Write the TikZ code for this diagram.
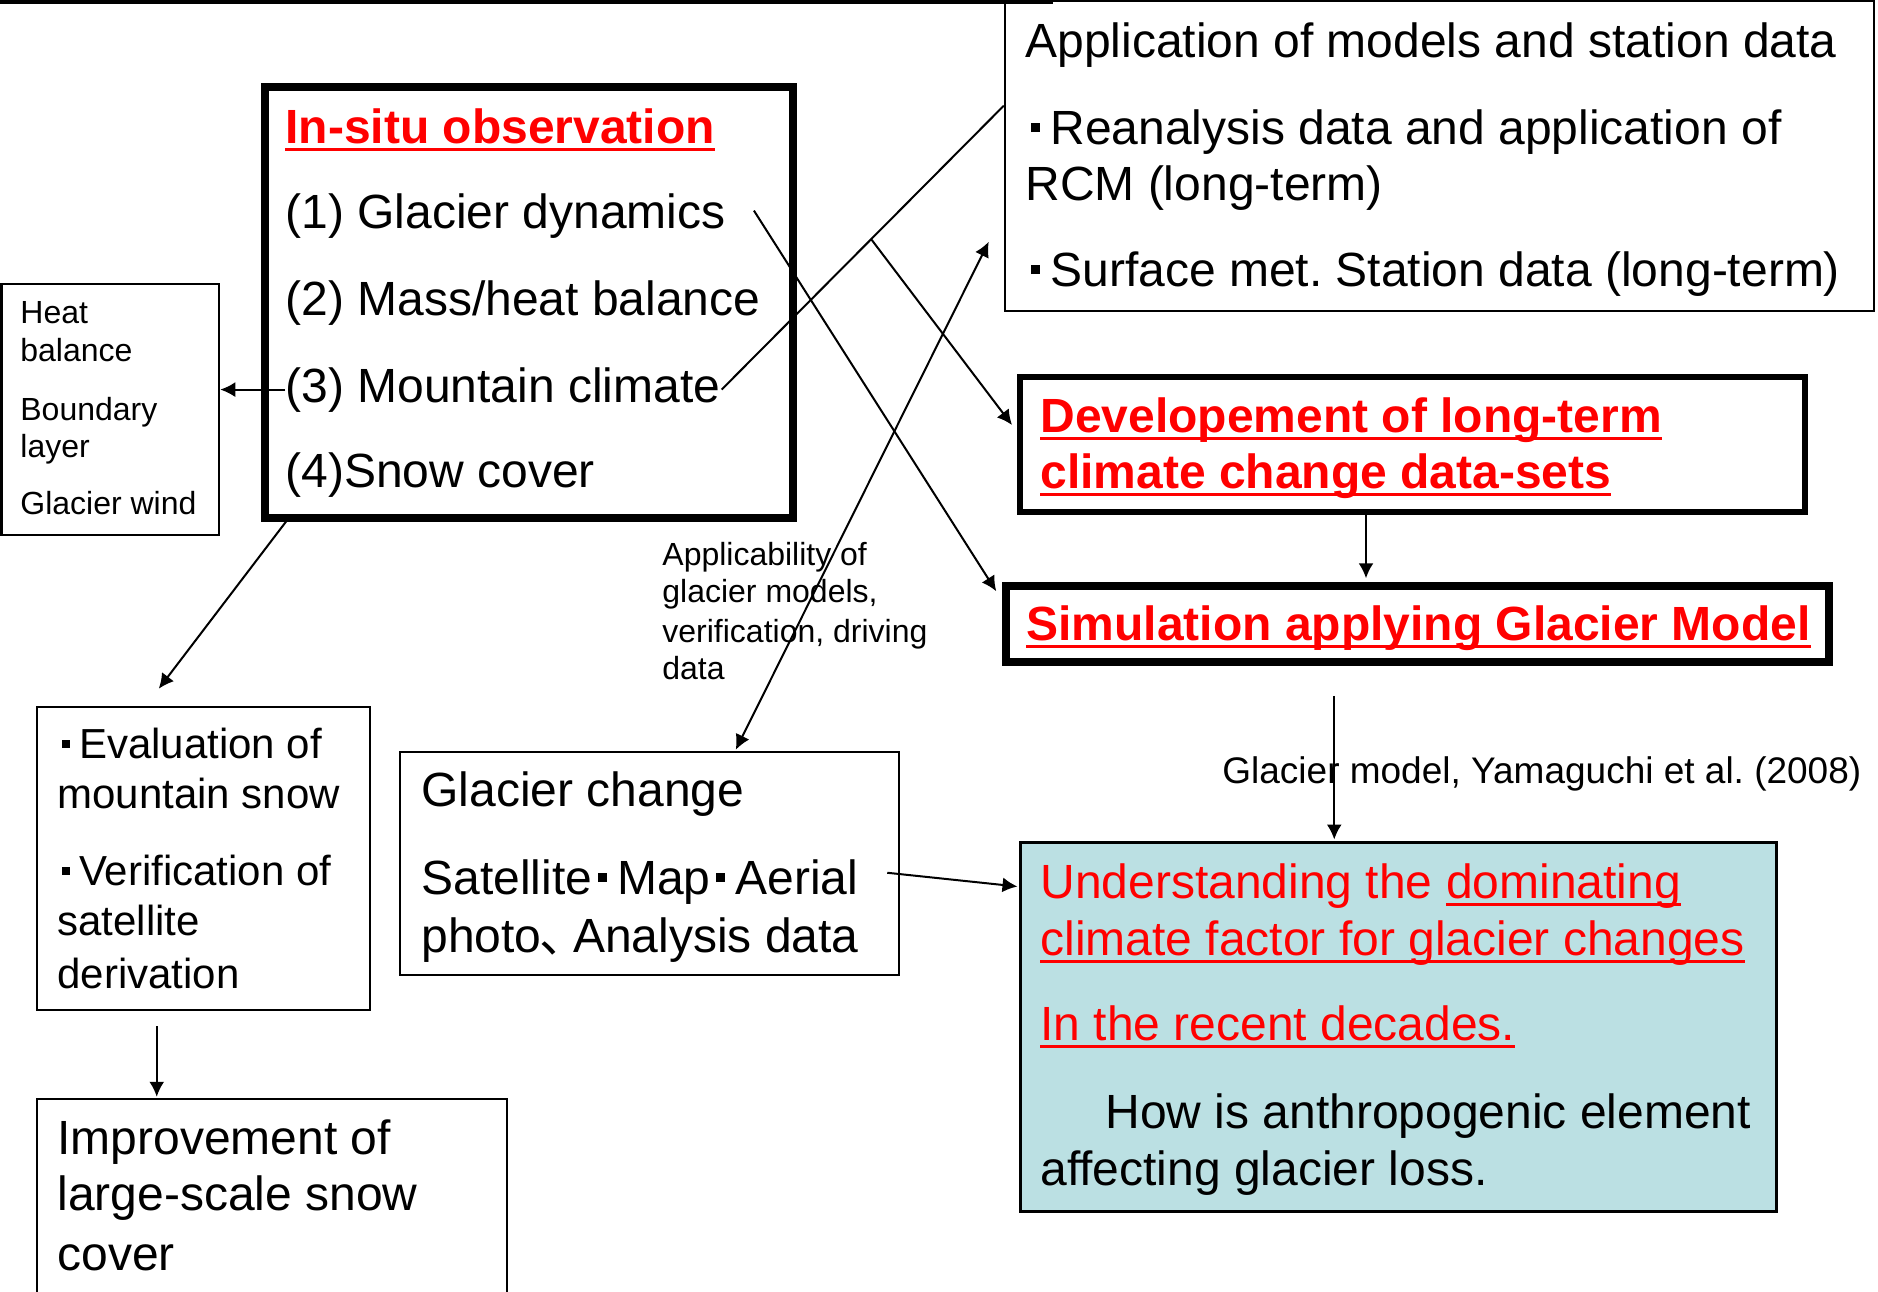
\documentclass[tikz,border=0pt]{standalone}
\usepackage{fontspec}
\setmainfont{Liberation Sans}
\newfontfamily\cjkfont{Noto Sans CJK JP}
\usetikzlibrary{arrows.meta,calc,fit}
\definecolor{boxcyan}{RGB}{187,224,227}
\definecolor{hotred}{RGB}{255,0,0}
\frenchspacing
% small square bullet
\newcommand\sqdot{\hspace*{0.12em}\rule[0.25em]{0.19em}{0.19em}\hspace*{0.21em}}
% underline at a fixed depth, descenders may cross it
\newsavebox\ulbox
\newcommand\ulined[1]{\sbox\ulbox{#1}\rlap{\rule[-0.16em]{\wd\ulbox}{0.065em}}\usebox\ulbox}
\begin{document}
\begin{tikzpicture}[x=0.5pt,y=-0.5pt,
  thinbox/.style={draw=black, line width=1.25pt, inner sep=0pt},
  thickbox/.style={draw=black, line width=3.75pt, inner sep=0pt},
  medbox/.style={draw=black, line width=3pt, inner sep=0pt},
  txt/.style={anchor=base west, inner sep=0pt, font=\fontsize{24}{28}\selectfont},
  fboxtxt/.style={anchor=base west, inner sep=0pt, font=\fontsize{21}{25}\selectfont},
  smalltxt/.style={anchor=base west, inner sep=0pt, font=\fontsize{16}{19}\selectfont},
  midtxt/.style={anchor=base west, inner sep=0pt, font=\fontsize{18.5}{22}\selectfont},
  redbold/.style={txt, text=hotred, font=\fontsize{24}{28}\selectfont\bfseries},
  redtxt/.style={txt, text=hotred},
  conn/.style={draw=black, line width=1pt},
  arr/.style={conn, -{Latex[length=7.5pt,width=7.5pt]}},
  arrboth/.style={conn, {Latex[length=7.5pt,width=7.5pt]}-{Latex[length=7.5pt,width=7.5pt]}}]
\useasboundingbox (0,0) rectangle (1878,1291);

% ---- boxes ----
\node[thinbox, fit={(1005,1)(1874,311)}] (A) {};
\draw[line width=2pt] (0,1.5) -- (1053,1.5);
\node[thickbox, fit={(265,87)(793,518)}] (B) {};
\node[thinbox, fit={(1.5,284)(219,535)}] (L) {};
\node[medbox, fit={(1020,377)(1805,512)}] (C) {};
\node[thickbox, fit={(1006,586)(1829,662)}] (D) {};
\node[thinbox, fill=boxcyan, line width=1.5pt, fit={(1020,842)(1776,1211)}] (E) {};
\node[thinbox, fit={(37,707)(370,1010)}] (F) {};
\node[thinbox, fit={(37,1099)(507,1310)}] (G) {};
\node[thinbox, fit={(400,752)(899,975)}] (H) {};

% ---- models and station data ----
\node[txt] (a1) at (1025,57) {Application of models and station data};
\node[txt] (a2) at (1025,144) {\sqdot Reanalysis data and application of};
\node[txt] (a3) at (1025,200) {RCM (long-term)};
\node[txt] (a4) at (1025,286) {\sqdot Surface met. Station data (long-term)};

% ---- in-situ observation ----
\node[redbold] (b0) at (285,143) {\ulined{In-situ observation}};
\node[txt] (b1) at (285,228) {(1) Glacier dynamics};
\node[txt] (b2) at (285,315) {(2) Mass/heat balance};
\node[txt] (b3) at (285,402) {(3) Mountain climate};
\node[txt] (b4) at (285,487) {(4)Snow cover};

% ---- side box ----
\node[smalltxt] (l1) at (20,323) {Heat};
\node[smalltxt] (l2) at (20,361) {balance};
\node[smalltxt] (l3) at (20,420) {Boundary};
\node[smalltxt] (l4) at (20,457) {layer};
\node[smalltxt] (l5) at (20,514) {Glacier wind};

% ---- data-set development and simulation ----
\node[redbold] (c1t) at (1040,432) {\ulined{Developement of long-term}};
\node[redbold] (c2t) at (1040,488) {\ulined{climate change data-sets}};
\node[redbold] (d1t) at (1026,640) {\ulined{Simulation applying Glacier Model}};

% ---- understanding box ----
\node[redtxt] (e1) at (1040,898) {Understanding the \ulined{dominating}};
\node[redtxt] (e2) at (1040,955) {\ulined{climate factor for glacier changes}};
\node[redtxt] (e3) at (1040,1040) {\ulined{In the recent decades.}};
\node[txt] (e4) at (1105,1128) {How is anthropogenic element};
\node[txt] (e5) at (1040,1185) {affecting glacier loss.};

% ---- snow evaluation ----
\node[fboxtxt] (f1t) at (57,758) {\sqdot Evaluation of};
\node[fboxtxt] (f2t) at (57,808) {mountain snow};
\node[fboxtxt] (f3t) at (57,885) {\sqdot Verification of};
\node[fboxtxt] (f4t) at (57,935) {satellite};
\node[fboxtxt] (f5t) at (57,988) {derivation};

\node[txt] (g1) at (57,1154) {Improvement of};
\node[txt] (g2) at (57,1210) {large-scale snow};
\node[txt] (g3) at (57,1270) {cover};

% ---- glacier change ----
\node[txt] (h1) at (421,806) {Glacier change};
\node[txt] (h2) at (421,894) {Satellite\sqdot Map\sqdot Aerial};
\node[txt] (h3) at (421,952) {photo\hspace{-0.04em}{\cjkfont 、}\hspace{-0.3em}Analysis data};

% ---- connector labels ----
\node[smalltxt] (k1) at (662,565) {Applicability of};
\node[smalltxt] (k2) at (662,602) {glacier models,};
\node[smalltxt] (k3) at (662,642) {verification, driving};
\node[smalltxt] (k4) at (662,679) {data};
\node[midtxt] (k5) at (1222,783) {Glacier model, Yamaguchi et al. (2008)};

% ---- connectors ----
\draw[arr] (b3.west) -- (b3.west -| L.east);
\coordinate (aL) at ($(A.north west)+(0,106)$);
\draw[conn] ($(b3.east)+(1,0)$) coordinate (m0) -- (aL);
\coordinate (br) at ($(m0)!0.53!(aL)$);
\draw[arr] (br) -- ($(C.north west)+(-5,51)$);
\draw[arr] ($(b1.east)+(28,-5)$) -- ($(D.north west)+(-6,9)$);
\draw[arrboth] ($(H.north west)+(337,-1)$) -- ($(A.north west)+(-15,242)$);
\draw[arr] ($(B.south west)+(30,-7)$) -- ($(F.north west)+(123,-17)$);
\draw[arr] ($(C.south west)+(349,0)$) coordinate (cs) -- ($(cs |- D.north)+(0,-4)$);
\draw[arr] ($(D.south west)+(332,30)$) coordinate (ds) -- ($(ds |- E.north)+(0,-1)$);
\draw[arr] ($(H.north east)+(-13,122)$) -- ($(E.north west)+(-1,46)$);
\draw[arr] ($(F.south west)+(121,15)$) coordinate (fs) -- ($(fs |- G.north)+(0,-1)$);
\end{tikzpicture}
\end{document}
